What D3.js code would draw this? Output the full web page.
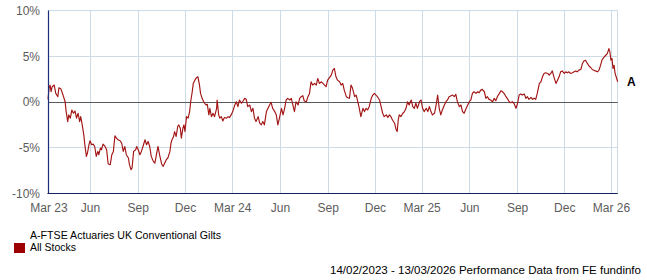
<!DOCTYPE html>
<html><head><meta charset="utf-8">
<script src="https://cdn.jsdelivr.net/npm/d3@7"></script>
<style>
html,body{margin:0;padding:0;background:#fff;}
svg{display:block;font-family:"Liberation Sans",Arial,sans-serif;}
</style></head>
<body><svg id="c" width="647" height="280"></svg>
<script>
// ---- data ----
const startDate = "2023-03-11";
const endDate = "2026-03-13";
const dayOffsets = [0,2,4,6,8,12,15,19,21,25,29,33,35,38,40,43,46,49,52,55,58,61,63,66,69,71,74,76,79,81,84,87,90,93,96,98,101,103,106,110,113,116,120,123,126,129,132,135,139,142,145,148,151,155,157,160,162,165,169,171,174,177,180,183,187,190,193,196,199,203,206,209,212,215,219,222,225,228,231,235,237,239,242,244,247,250,252,255,257,260,262,
264,267,270,273,275,278,280,283,286,289,292,294,297,300,302,305,307,310,312,315,318,321,325,326,329,331,334,337,340,344,347,350,353,356,360,363,366,369,373,376,379,382,385,389,392,395,398,401,405,408,411,414,417,421,424,427,430,433,437,440,443,446,450,453,456,459,462,466,469,472,475,478,482,485,488,491,494,498,501,504,507,510,514,517,520,523,527,530,533,536,539,
546,549,552,555,558,562,565,568,571,575,578,581,584,587,591,594,597,600,603,607,610,613,616,619,623,626,629,632,635,639,642,645,648,652,655,658,661,664,668,671,673,675,677,680,684,687,690,693,696,700,703,706,709,712,716,719,722,725,729,732,735,738,741,745,748,751,754,757,760,764,767,770,773,777,780,783,786,789,793,796,799,802,806,809,812,815,818,
821,825,828,831,834,837,841,844,847,850,853,857,860,863,866,870,873,876,879,882,885,889,892,895,898,902,905,908,911,914,918,921,924,927,931,934,937,940,943,947,950,953,956,959,963,966,969,972,975,979,982,985,988,991,995,998,1001,1004,1007,1011,1014,1017,1020,1023,1027,1030,1033,1036,1039,1043,1046,1049,1052,1055,1059,1062,1065,1068,1071,1075,1078,1081,1083,1085,1087,1089,1091,1093,1098];
const returnsPct = [0.3,1.49,1.85,1.12,1.67,1.85,0.94,0.58,1.56,1.41,0.76,0.03,-1.05,-2.14,-1.41,-1.77,-0.87,-1.23,-0.98,-1.77,-1.23,-2.14,-1.6,-2.5,-3.59,-4.67,-5.94,-5.58,-4.67,-4.24,-4.67,-4.6,-4.86,-5.94,-5.4,-5.76,-5.04,-5.22,-4.6,-4.86,-5.22,-6.77,-6.85,-5.76,-5.4,-3.7,-3.95,-4.13,-4.24,-4.49,-5.4,-4.86,-5.76,-6.12,-6.85,-7.39,-7.21,-5.4,-5.22,-4.86,-5.22,-5.76,-5.4,-4.86,-4.13,-4.67,-4.31,-4.86,-5.94,-6.49,-6.67,-5.76,-4.86,-5.76,-6.77,-7.03,-6.67,-6.3,-6.12,-5.4,-4.49,-4.13,-3.77,-3.23,-3.77,-2.68,-2.5,-2.86,-3.95,-2.86,-2.5,
-3.23,-1.6,-1.77,-1.05,0.03,1.12,2.03,2.39,2.64,2.75,1.85,0.94,0.40,0.03,-0.14,-0.33,-0.25,-1.41,-0.69,-1.6,-1.23,-1.6,-0.69,0.22,-1.41,-1.77,-1.6,-2.07,-1.7,-1.77,-1.6,-1.7,-1.41,-1.05,-0.33,0.03,-0.51,0.22,-0.14,0.11,0.40,0.29,-0.51,-0.33,-1.05,-0.69,-1.77,-2.14,-1.6,-2.32,-2.5,-2.14,-2.5,-1.05,-0.69,-0.33,-0.03,-0.69,-1.05,-1.41,-2.5,-1.77,-0.69,-1.41,-0.69,0.22,0.40,0.22,0.40,-0.33,-1.05,0.03,-0.33,0.40,0.58,0.69,0.11,0.03,0.58,0.94,2.21,1.85,2.03,1.85,2.57,2.03,2.21,2.03,1.85,1.67,2.39,
2.93,3.48,3.66,2.75,2.39,2.21,1.85,2.03,1.30,0.58,0.47,0.40,1.85,1.49,0.58,0.76,0.03,-0.69,-1.6,-0.69,-1.05,-0.69,-0.87,-0.51,0.40,0.76,0.94,0.76,0.58,0.22,-0.51,-1.23,-1.6,-1.41,-1.7,-1.41,-1.6,-1.96,-2.32,-3.04,-3.23,-1.96,-1.41,-1.6,-1.23,-1.05,-0.69,0.03,-0.33,0.22,-0.51,-0.69,-0.14,-0.69,0.03,0.22,-0.69,-1.05,-0.69,-1.05,-0.51,-1.05,-1.41,-1.23,-0.33,0.76,-0.69,-1.41,-0.87,-0.33,0.03,0.22,0.58,0.69,0.76,0.58,0.84,0.03,-0.51,-0.33,-1.05,-1.23,-0.69,-0.33,0.03,0.22,0.94,
1.12,0.94,1.12,1.01,1.30,1.38,1.12,0.40,0.58,0.29,0.22,0.03,0.40,0.14,0.58,0.94,1.23,1.12,0.94,0.65,0.40,0.03,-0.07,0.03,-0.14,-0.69,-0.14,0.76,0.87,0.76,0.87,0.40,0.58,0.29,0.51,0.29,0.40,0.29,0.94,2.03,2.21,2.75,3.12,3.19,3.12,2.93,3.12,3.40,2.75,2.03,2.39,2.75,3.30,3.40,3.12,3.30,3.19,3.30,3.12,3.19,3.30,3.40,3.30,3.48,3.55,4.21,4.49,4.57,4.27,3.91,3.77,3.55,3.48,3.40,3.30,3.48,4.02,4.64,4.86,5.11,5.29,5.84,5.47,4.57,4.75,3.66,4.02,3.12,2.21];
const yTicks = [10, 5, 0, -5, -10];
const yTickLabels = ["10%", "5%", "0%", "-5%", "-10%"];
const xTickDates = ["2023-03-11","2023-06-01","2023-09-01","2023-12-01","2024-03-01","2024-06-01","2024-09-01","2024-12-01","2025-03-01","2025-06-01","2025-09-01","2025-12-01","2026-03-01"];
const xTickLabels = ["Mar 23","Jun","Sep","Dec","Mar 24","Jun","Sep","Dec","Mar 25","Jun","Sep","Dec","Mar 26"];
const seriesName = "A-FTSE Actuaries UK Conventional Gilts";
const seriesName2 = "All Stocks";
const seriesTag = "A";
const footer = "14/02/2023 - 13/03/2026 Performance Data from FE fundinfo";

// ---- drawing ----
const svg = d3.select("#c");
const parse = d3.utcParse("%Y-%m-%d");
const base = parse(startDate);
const data = dayOffsets.map((d, i) => ({date: d3.utcDay.offset(base, d), v: returnsPct[i]}));

const L = 48, R = 617.7, T = 10.5, B = 193.5;
const x = d3.scaleUtc().domain([base, parse(endDate)]).range([L, R]);
const y = d3.scaleLinear().domain([-10, 10]).range([B, T]);
const px = v => Math.round(v) + 0.5;

const grid = svg.append("g");
xTickDates.slice(1).forEach(s => {
  const xx = px(x(parse(s)) - 0.5);
  grid.append("line").attr("x1", xx).attr("x2", xx).attr("y1", T).attr("y2", B)
    .attr("stroke", "#cddbe7").attr("stroke-width", 1);
});
grid.append("line").attr("x1", px(R - 0.5)).attr("x2", px(R - 0.5)).attr("y1", T).attr("y2", B)
  .attr("stroke", "#cddbe7");
yTicks.forEach(t => {
  if (t === -10) return;
  const yy = px(y(t) - 0.5);
  grid.append("line").attr("x1", L).attr("x2", R).attr("y1", yy).attr("y2", yy)
    .attr("stroke", t === 0 ? "#5a5a5a" : "#cddbe7").attr("stroke-width", 1);
});

const line = d3.line().x(d => x(d.date)).y(d => y(d.v));
svg.append("path").datum(data).attr("d", line)
  .attr("fill", "none").attr("stroke", "#a31515").attr("stroke-width", 1.15)
  .attr("stroke-linejoin", "round");

svg.append("line").attr("x1", px(L - 0.5)).attr("x2", px(L - 0.5)).attr("y1", T).attr("y2", B + 0.5)
  .attr("stroke", "#1c2d7c").attr("stroke-width", 1.2);
svg.append("line").attr("x1", L - 0.5).attr("x2", R).attr("y1", px(B - 0.5)).attr("y2", px(B - 0.5))
  .attr("stroke", "#13235c").attr("stroke-width", 1.2);

yTicks.forEach((t, i) => {
  svg.append("text").attr("x", 40).attr("y", y(t)).attr("dy", "0.36em")
    .attr("text-anchor", "end").attr("font-size", 12).attr("fill", "#5c5c5c")
    .text(yTickLabels[i]);
});
xTickDates.forEach((s, i) => {
  svg.append("text").attr("x", i === 0 ? L + 1 : x(parse(s))).attr("y", 212)
    .attr("text-anchor", "middle").attr("font-size", 12).attr("fill", "#5c5c5c")
    .text(xTickLabels[i]);
});

const last = data[data.length - 1];
svg.append("text").attr("x", 627).attr("y", y(last.v)).attr("dy", "0.36em")
  .attr("font-size", 12).attr("font-weight", "bold").attr("fill", "#000").text(seriesTag);

svg.append("rect").attr("x", 14).attr("y", 243).attr("width", 11).attr("height", 10).attr("fill", "#9c0000");
svg.append("text").attr("x", 30).attr("y", 238.5).attr("font-size", 11).attr("fill", "#000")
  .attr("textLength", 191).attr("lengthAdjust", "spacingAndGlyphs").text(seriesName);
svg.append("text").attr("x", 30).attr("y", 250.5).attr("font-size", 11).attr("fill", "#000")
  .attr("textLength", 46).attr("lengthAdjust", "spacingAndGlyphs").text(seriesName2);

svg.append("text").attr("x", 330).attr("y", 274).attr("font-size", 11).attr("fill", "#000")
  .attr("textLength", 311).attr("lengthAdjust", "spacingAndGlyphs").text(footer);
</script>
</body></html>
